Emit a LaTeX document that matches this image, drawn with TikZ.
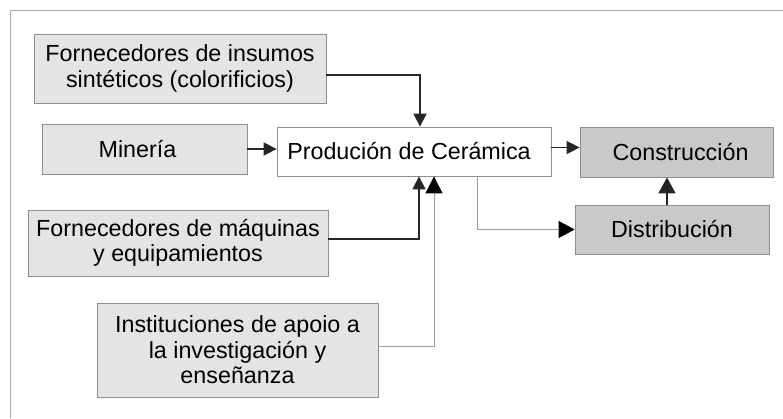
\documentclass[tikz,border=0pt]{standalone}
\usepackage{fontspec}
\setmainfont{Liberation Sans}
\usetikzlibrary{arrows.meta}
\definecolor{boxlight}{HTML}{E4E4E4}
\definecolor{boxdark}{HTML}{C9C9C9}
\definecolor{boxedge}{HTML}{8E8E8E}
\definecolor{thinline}{HTML}{9A9A9A}
\definecolor{framecol}{HTML}{A8A8A8}
\tikzset{
  every node/.style={font=\fontsize{23.3}{25.5}\selectfont, align=center, inner sep=0pt},
  lightbox/.style={rectangle, draw=boxedge, fill=boxlight, line width=0.8pt},
  darkbox/.style={rectangle, draw=boxedge, fill=boxdark, line width=0.8pt},
  whitebox/.style={rectangle, draw=boxedge, fill=white, line width=0.8pt},
  darkarr/.style={draw=black!85, line width=1.5pt, -{Triangle[length=13pt,width=13pt]}},
  darkbig/.style={draw=black!85, line width=1.5pt, -{Triangle[length=16pt,width=17pt]}},
  greyarr/.style={draw=thinline, line width=0.9pt, -{Triangle[length=16pt,width=17pt,fill=black,color=black]}},
  bigarr/.style={draw=thinline, line width=0.9pt, -{Triangle[length=17pt,width=17pt,fill=black,color=black]}}
}
\begin{document}
\begin{tikzpicture}[x=1pt,y=-1pt]
\useasboundingbox (0,0) rectangle (783,418);
\draw[framecol, line width=0.9pt] (10,418) -- (10,10) -- (783,10);

\node[lightbox, minimum width=292pt, minimum height=69pt] (ins) at (180,68.5) {Fornecedores de insumos\\sintéticos (colorificios)};
\node[lightbox, minimum width=205pt, minimum height=50pt] (min) at (144.5,149) {\hspace*{-14pt}Minería};
\node[whitebox, minimum width=274pt, minimum height=49pt] (prod) at (414,151.5) {\hspace*{-10pt}Produción de Cerámica};
\node[darkbox, minimum width=193pt, minimum height=50pt] (cons) at (676.5,152) {\hspace*{8pt}Construcción};
\node[darkbox, minimum width=194pt, minimum height=49pt] (dist) at (672,229.5) {Distribución};
\node[lightbox, minimum width=300pt, minimum height=66pt] (maq) at (178,243) {Fornecedores de máquinas\\y equipamientos};
\node[lightbox, minimum width=281pt, minimum height=94pt] (inst) at (237.5,350) {Instituciones de apoio a\\la investigación y\\enseñanza};

\draw[darkarr] ([yshift=-6.5pt]ins.east) -| ([xshift=6pt]prod.north);
\draw[darkarr] (min.east) -- (min.east -| prod.west);
\draw[darkarr] ([yshift=4pt]maq.east) -| ([xshift=5pt]prod.south);
\draw[bigarr] ([yshift=4pt]inst.east) -| ([xshift=20pt]prod.south);
\draw[darkarr] ([yshift=4pt]prod.east) -- ([yshift=4pt]prod.east -| cons.west);
\draw[greyarr] ([xshift=63pt]prod.south) |- (dist.west);
\draw[darkbig] ([xshift=-5pt]dist.north) -- ([xshift=-5pt]dist.north |- cons.south);
\end{tikzpicture}
\end{document}
